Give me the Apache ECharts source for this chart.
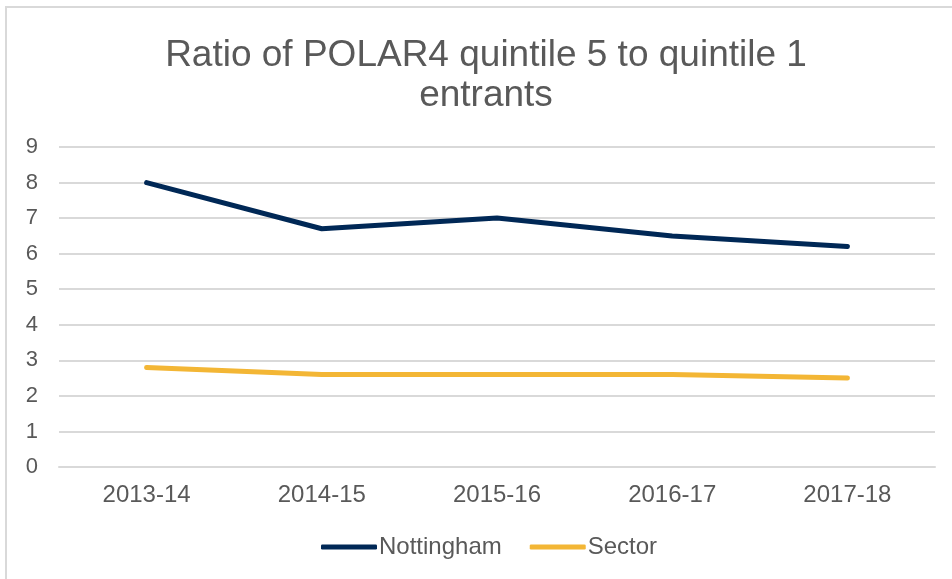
<!DOCTYPE html>
<html>
<head>
<meta charset="utf-8">
<script src="https://cdn.jsdelivr.net/npm/echarts@6/dist/echarts.min.js"></script>
<style>
  html, body { margin: 0; padding: 0; background: #fff; }
  #chart { width: 952px; height: 579px; }
</style>
</head>
<body>
<div id="chart"></div>
<script>
const years = ['2013-14', '2014-15', '2015-16', '2016-17', '2017-18'];
const nottingham = [8.0, 6.7, 7.0, 6.5, 6.2];
const sector = [2.8, 2.6, 2.6, 2.6, 2.5];

const textColor = '#595959';
const font = 'Liberation Sans, Arial, sans-serif';

const chart = echarts.init(document.getElementById('chart'));
chart.setOption({
    animation: false,
    graphic: [{
        type: 'rect',
        shape: { x: 6, y: 7, width: 1000, height: 1000 },
        style: { fill: 'none', stroke: '#d9d9d9', lineWidth: 2 },
        silent: true
    }],
    title: {
        text: 'Ratio of POLAR4 quintile 5 to quintile 1\nentrants',
        left: 481,
        textAlign: 'center',
        top: 31,
        textStyle: {
            fontFamily: font,
            fontSize: 37,
            fontWeight: 'normal',
            color: textColor,
            lineHeight: 40
        }
    },
    legend: {
        bottom: 15,
        left: 316,
        icon: 'roundRect',
        itemWidth: 56,
        itemHeight: 5,
        itemGap: 28,
        textStyle: { fontFamily: font, fontSize: 24, color: textColor, padding: [0, 0, 0, -3] },
        data: ['Nottingham', 'Sector']
    },
    grid: { left: 59, right: 17, top: 147, bottom: 112 },
    xAxis: {
        type: 'category',
        data: years,
        boundaryGap: true,
        axisLine: { lineStyle: { color: '#d9d9d9', width: 2 } },
        axisTick: { show: false },
        axisLabel: { fontFamily: font, fontSize: 24, color: textColor, margin: 16 }
    },
    yAxis: {
        type: 'value',
        min: 0,
        max: 9,
        interval: 1,
        axisLine: { show: false },
        axisTick: { show: false },
        splitLine: { lineStyle: { color: '#d9d9d9', width: 2 } },
        axisLabel: { fontFamily: font, fontSize: 22, color: textColor, margin: 21 }
    },
    series: [
        {
            name: 'Nottingham',
            type: 'line',
            data: nottingham,
            symbol: 'none',
            lineStyle: { color: '#002856', width: 5, cap: 'round', join: 'round' },
            itemStyle: { color: '#002856' }
        },
        {
            name: 'Sector',
            type: 'line',
            data: sector,
            symbol: 'none',
            lineStyle: { color: '#f3b635', width: 5, cap: 'round', join: 'round' },
            itemStyle: { color: '#f3b635' }
        }
    ]
});
</script>
</body>
</html>
